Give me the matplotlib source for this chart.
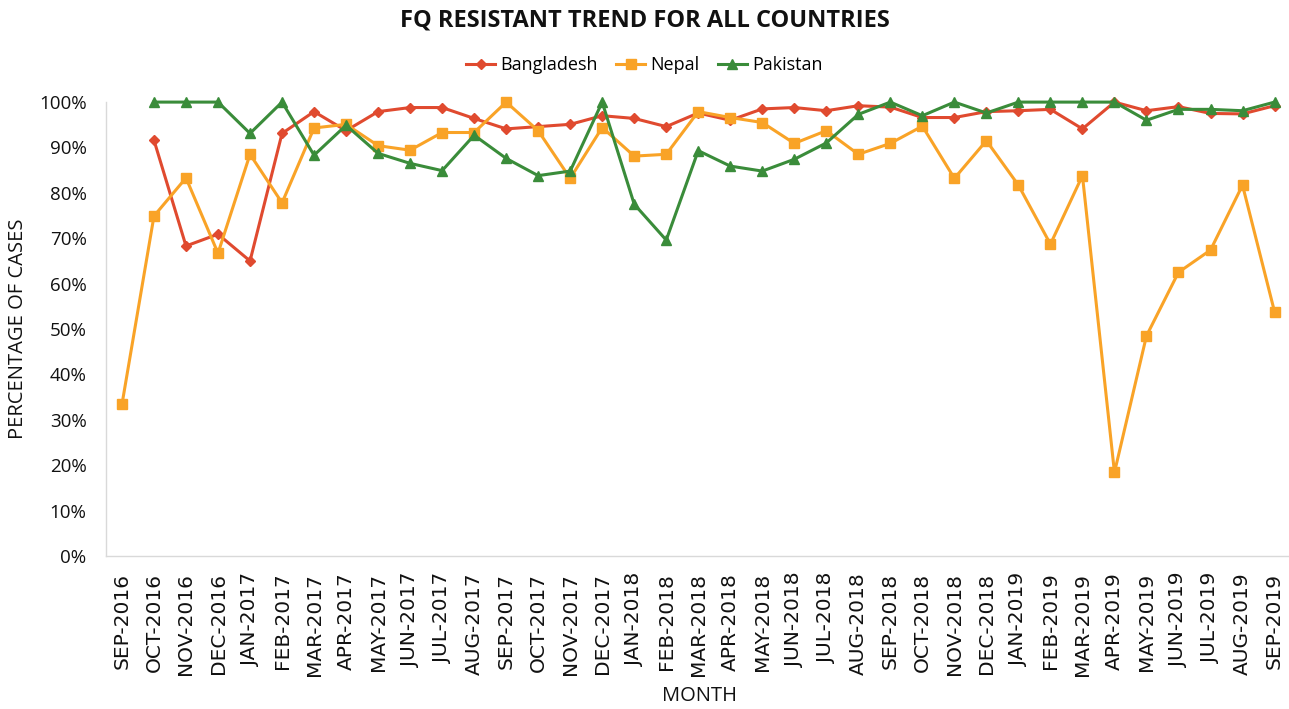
import matplotlib
matplotlib.use("Agg")
import matplotlib.pyplot as plt
from matplotlib.ticker import PercentFormatter

months = ["SEP-2016", "OCT-2016", "NOV-2016", "DEC-2016", "JAN-2017", "FEB-2017", "MAR-2017",
          "APR-2017", "MAY-2017", "JUN-2017", "JUL-2017", "AUG-2017", "SEP-2017", "OCT-2017",
          "NOV-2017", "DEC-2017", "JAN-2018", "FEB-2018", "MAR-2018", "APR-2018", "MAY-2018",
          "JUN-2018", "JUL-2018", "AUG-2018", "SEP-2018", "OCT-2018", "NOV-2018", "DEC-2018",
          "JAN-2019", "FEB-2019", "MAR-2019", "APR-2019", "MAY-2019", "JUN-2019", "JUL-2019",
          "AUG-2019", "SEP-2019"]

bangladesh = [None, 91.6, 68.3, 70.9, 65.0, 93.1, 97.9, 93.7, 97.9, 98.8, 98.8, 96.4,
              94.1, 94.6, 95.1, 97.0, 96.4, 94.6, 97.6, 96.0, 98.5, 98.8, 98.1, 99.2,
              98.9, 96.6, 96.6, 97.9, 98.1, 98.4, 94.1, 100.0, 98.1, 99.0, 97.5, 97.4, 99.2]

nepal = [33.4, 74.9, 83.3, 66.7, 88.5, 77.8, 94.3, 95.1, 90.4, 89.4, 93.3, 93.3,
         100.0, 93.7, 83.2, 94.4, 88.1, 88.5, 97.9, 96.6, 95.5, 90.9, 93.7, 88.5,
         90.9, 94.7, 83.2, 91.5, 81.7, 68.7, 83.8, 18.4, 48.5, 62.5, 67.4, 81.7, 53.8]

pakistan = [None, 100.0, 100.0, 100.0, 93.1, 100.0, 88.3, 94.9, 88.7, 86.5, 84.9, 92.7,
            87.6, 83.8, 84.8, 100.0, 77.5, 69.6, 89.3, 85.9, 84.8, 87.4, 91.0, 97.3,
            100.0, 97.0, 100.0, 97.6, 100.0, 100.0, 100.0, 100.0, 96.0, 98.4, 98.4, 98.1, 100.0]

yticks = [0, 10, 20, 30, 40, 50, 60, 70, 80, 90, 100]

series = [("Bangladesh", bangladesh, "#E04A2F", "D", 5),
          ("Nepal", nepal, "#F9A327", "s", 6.5),
          ("Pakistan", pakistan, "#3A8C3A", "^", 7)]

fig = plt.figure(figsize=(12.89, 7.09), dpi=100)
ax = fig.add_axes([0.0822, 0.2158, 0.919, 0.6402])

x = list(range(len(months)))
for name, vals, color, marker, ms in series:
    xs = [i for i, v in zip(x, vals) if v is not None]
    ys = [v for v in vals if v is not None]
    ax.plot(xs, ys, color=color, marker=marker, markersize=ms, linewidth=2.2,
            label=name, clip_on=False, zorder=3)

ax.set_xlim(-0.5, len(months) - 0.5)
ax.set_ylim(0, 100)
ax.set_yticks(yticks)
ax.yaxis.set_major_formatter(PercentFormatter(decimals=0))
ax.set_xticks(x)
ax.set_xticklabels(months, rotation=90, fontsize=14.5, family="DejaVu Sans", color="#111111")
for lab in ax.get_yticklabels():
    lab.set_fontsize(13.5)
    lab.set_family("Open Sans")
    lab.set_color("#111111")
ax.tick_params(axis="x", length=0, pad=12)
ax.tick_params(axis="y", length=0, pad=14)

for s in ["top", "right"]:
    ax.spines[s].set_visible(False)
for s in ["left", "bottom"]:
    ax.spines[s].set_color("#d9d9d9")
    ax.spines[s].set_linewidth(1.0)

ax.set_ylabel("PERCENTAGE OF CASES", fontsize=14.5, family="Open Sans", color="#111111", labelpad=8)
fig.text(0.543, 0.018, "MONTH", ha="center", va="center", fontsize=14.5,
         family="Open Sans", color="#111111")

fig.text(0.5, 0.971, "FQ RESISTANT TREND FOR ALL COUNTRIES", ha="center", va="center",
         fontsize=17, fontweight="bold", family="Open Sans", color="#111111")

leg = fig.legend(loc="center", bbox_to_anchor=(0.5, 0.908), ncol=3, frameon=False,
                 prop={"family": "Open Sans", "size": 13}, handlelength=1.6,
                 columnspacing=1.0, handletextpad=0.3)

fig.savefig("out.png", dpi=100)
